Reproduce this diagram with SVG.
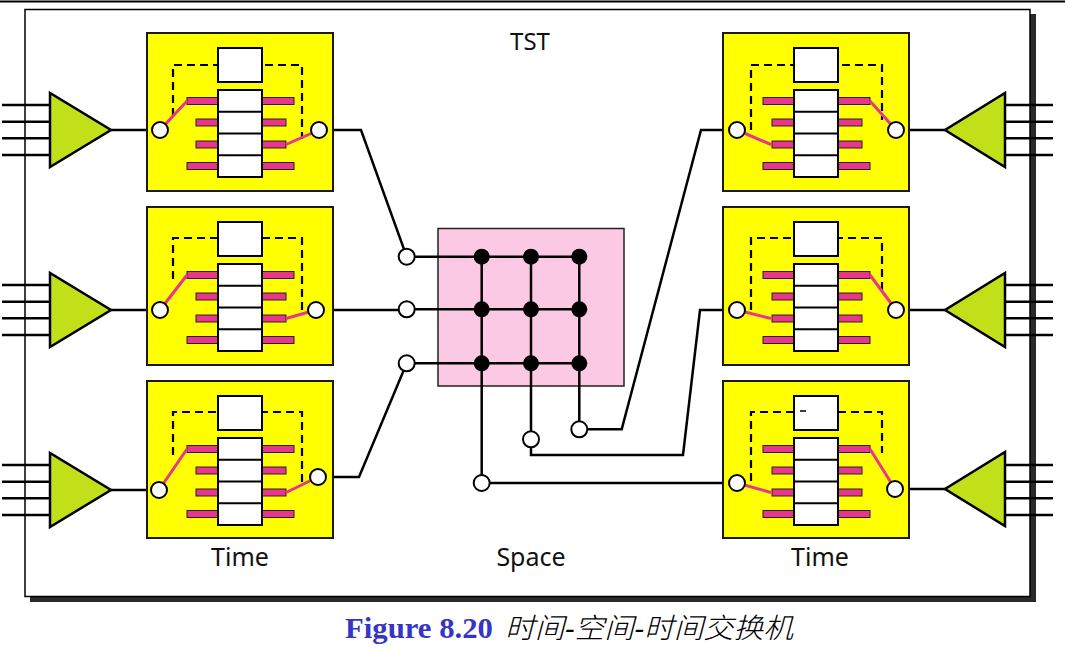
<svg xmlns="http://www.w3.org/2000/svg" xmlns:xlink="http://www.w3.org/1999/xlink" width="1065" height="651" viewBox="0 0 1065 651">
<style>
.ln{fill:none;stroke:#000;stroke-width:2.5;stroke-linejoin:miter}
.yb{fill:#ffff00;stroke:#1a1a1a;stroke-width:2}
.wb{fill:#fff;stroke:#000;stroke-width:2}
.bar{fill:#e8368c;stroke:#222;stroke-width:1}
.mg{fill:none;stroke:#e8368c;stroke-width:3}
.dash{fill:none;stroke:#000;stroke-width:2.2;stroke-dasharray:8 5}
.port{fill:#fff;stroke:#000;stroke-width:2}
.tri{fill:#c2e01a;stroke:#000;stroke-width:2.5;stroke-linejoin:miter}
.dot{fill:#000}
.lbl{font-family:"Noto Sans","Open Sans","Liberation Sans",sans-serif;fill:#111}
</style>
<defs>
<g id="core">
<rect class="bar" x="40" y="64.5" width="31" height="7"/>
<rect class="bar" x="49" y="86" width="22" height="7"/>
<rect class="bar" x="49" y="108" width="22" height="7"/>
<rect class="bar" x="40" y="129.5" width="31" height="7"/>
<rect class="bar" x="115" y="64.5" width="32" height="7"/>
<rect class="bar" x="115" y="86" width="24" height="7"/>
<rect class="bar" x="115" y="108" width="24" height="7"/>
<rect class="bar" x="115" y="129.5" width="32" height="7"/>
<rect class="wb" x="71" y="15" width="44" height="34"/>
<rect class="wb" x="71" y="57" width="44" height="87"/>
<path d="M71,78.75H115M71,100.5H115M71,122.25H115" stroke="#000" stroke-width="1.8"/>
</g>
<g id="triL">
<polygon class="tri" points="50,-37 50,37 111,0"/>
</g>
<g id="triR">
<polygon class="tri" points="1005,-37 1005,37 945,0"/>
</g>
</defs>

<line x1="0" y1="1.5" x2="1065" y2="1.5" stroke="#000" stroke-width="2"/>

<g id="frame">
<rect x="30" y="14" width="1006" height="588" fill="#2a2a2a"/>
<rect x="25" y="9.5" width="1005" height="587" fill="#fff" stroke="#000" stroke-width="1.5"/>
<text class="lbl" x="530" y="50" font-size="24" text-anchor="middle">TST</text>
<text class="lbl" x="240" y="566" font-size="25" text-anchor="middle">Time</text>
<text class="lbl" x="531" y="566" font-size="25" text-anchor="middle">Space</text>
<text class="lbl" x="820" y="566" font-size="25" text-anchor="middle">Time</text>
</g>

<g id="connectors" class="ln">
<path d="M2,105H50M2,121.7H50M2,138.3H50M2,155H50"/>
<path d="M2,285H50M2,301.7H50M2,318.3H50M2,335H50"/>
<path d="M2,465H50M2,481.7H50M2,498.3H50M2,515H50"/>
<path d="M1005,105H1053M1005,121.7H1053M1005,138.3H1053M1005,155H1053"/>
<path d="M1005,285H1053M1005,301.7H1053M1005,318.3H1053M1005,335H1053"/>
<path d="M1005,465H1053M1005,481.7H1053M1005,498.3H1053M1005,515H1053"/>
<path d="M111,130H160M111,310H160M111,490H159"/>
<path d="M896,130H945M896,310H945M895,489H945"/>
<path d="M319,130H361L406.7,256.7"/>
<path d="M316,310H406.7"/>
<path d="M318,477H359L406.7,363.3"/>
<path d="M579.3,429.3H621.7L701,130H737"/>
<path d="M531,439.3V455H683L700,310H737"/>
<path d="M481.7,483H737"/>
</g>

<g id="mux-in-1"><use xlink:href="#triL" href="#triL" transform="translate(0,130)"/></g>
<g id="mux-in-2"><use xlink:href="#triL" href="#triL" transform="translate(0,310)"/></g>
<g id="mux-in-3"><use xlink:href="#triL" href="#triL" transform="translate(0,490)"/></g>
<g id="demux-out-1"><use xlink:href="#triR" href="#triR" transform="translate(0,130)"/></g>
<g id="demux-out-2"><use xlink:href="#triR" href="#triR" transform="translate(0,310)"/></g>
<g id="demux-out-3"><use xlink:href="#triR" href="#triR" transform="translate(0,489)"/></g>

<g id="tsi-left-1" transform="translate(147,33)">
<rect class="yb" x="0" y="0" width="186" height="158"/>
<path class="dash" d="M26,83V32H155V106"/>
<use xlink:href="#core" href="#core"/>
<path class="mg" d="M13,97L40,68M172,97L139,111.5"/>
<circle class="port" cx="13" cy="97" r="8"/>
<circle class="port" cx="172" cy="97" r="8"/>
</g>

<g id="tsi-left-2" transform="translate(147,207)">
<rect class="yb" x="0" y="0" width="186" height="158"/>
<path class="dash" d="M26,72V31H155V106"/>
<use xlink:href="#core" href="#core"/>
<path class="mg" d="M13,103L40,68M169,103L139,111.5"/>
<circle class="port" cx="13" cy="103" r="8"/>
<circle class="port" cx="169" cy="103" r="8"/>
</g>

<g id="tsi-left-3" transform="translate(147,381)">
<rect class="yb" x="0" y="0" width="186" height="157"/>
<path class="dash" d="M26,74V31H155V101"/>
<use xlink:href="#core" href="#core"/>
<path class="mg" d="M12,109L40,68M171,96L139,111.5"/>
<circle class="port" cx="12" cy="109" r="8"/>
<circle class="port" cx="171" cy="96" r="8"/>
</g>

<g id="tsi-right-1" transform="translate(723,33)">
<rect class="yb" x="0" y="0" width="186" height="158"/>
<path class="dash" d="M28,97V32H159V87"/>
<use xlink:href="#core" href="#core"/>
<path class="mg" d="M14,97L48,111.5M147,68L173,97"/>
<circle class="port" cx="14" cy="97" r="8"/>
<circle class="port" cx="173" cy="97" r="8"/>
</g>

<g id="tsi-right-2" transform="translate(723,207)">
<rect class="yb" x="0" y="0" width="186" height="158"/>
<path class="dash" d="M28,103V31H159V88"/>
<use xlink:href="#core" href="#core"/>
<path class="mg" d="M14,103L48,111.5M147,68L173,103"/>
<circle class="port" cx="14" cy="103" r="8"/>
<circle class="port" cx="173" cy="103" r="8"/>
</g>

<g id="tsi-right-3" transform="translate(723,381)">
<rect class="yb" x="0" y="0" width="186" height="157"/>
<path class="dash" d="M28,100V31H159V72"/>
<use xlink:href="#core" href="#core"/>
<line x1="77" y1="30" x2="83" y2="30" stroke="#000" stroke-width="1.5"/>
<path class="mg" d="M14,102L48,111.5M147,68L172,108"/>
<circle class="port" cx="14" cy="102" r="8"/>
<circle class="port" cx="172" cy="108" r="8"/>
</g>

<g id="space-switch">
<rect x="438" y="228.5" width="186" height="157.5" fill="#fbc9e4" stroke="#222" stroke-width="1.5"/>
<path class="ln" d="M406.7,256.7H579.3M406.7,309.3H579.3M406.7,363.3H579.3"/>
<path class="ln" d="M481.7,256.7V483M531,256.7V439.3M579.3,256.7V429.3"/>
<circle class="dot" cx="481.7" cy="256.7" r="8"/>
<circle class="dot" cx="531" cy="256.7" r="8"/>
<circle class="dot" cx="579.3" cy="256.7" r="8"/>
<circle class="dot" cx="481.7" cy="309.3" r="8"/>
<circle class="dot" cx="531" cy="309.3" r="8"/>
<circle class="dot" cx="579.3" cy="309.3" r="8"/>
<circle class="dot" cx="481.7" cy="363.3" r="8"/>
<circle class="dot" cx="531" cy="363.3" r="8"/>
<circle class="dot" cx="579.3" cy="363.3" r="8"/>
<circle class="port" cx="406.7" cy="256.7" r="8"/>
<circle class="port" cx="406.7" cy="309.3" r="8"/>
<circle class="port" cx="406.7" cy="363.3" r="8"/>
<circle class="port" cx="579.3" cy="429.3" r="8"/>
<circle class="port" cx="531" cy="439.3" r="8"/>
<circle class="port" cx="481.7" cy="483" r="8"/>
</g>

<g id="caption">
<text x="345" y="638" font-family="'Liberation Serif',serif" font-weight="bold" font-size="29" fill="#3535c8" textLength="148" lengthAdjust="spacingAndGlyphs">Figure 8.20</text>
<text x="505" y="638" font-family="'Liberation Sans','Noto Sans CJK SC',sans-serif" font-style="italic" font-weight="300" font-size="28" fill="#000" textLength="288" lengthAdjust="spacingAndGlyphs">时间-空间-时间交换机</text>
</g>
</svg>
